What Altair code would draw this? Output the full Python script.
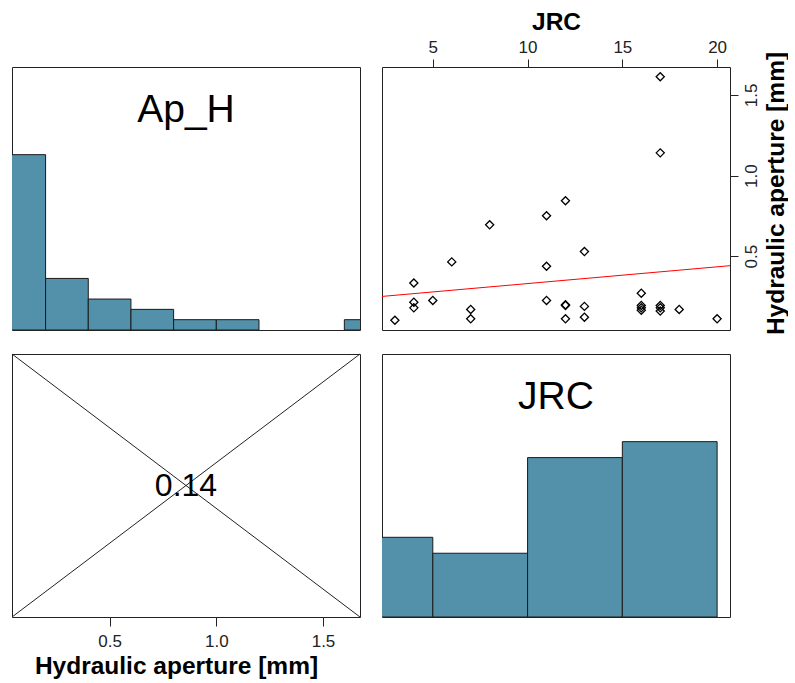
import altair as alt
import pandas as pd

# ---------------- data ----------------
jrc = [3, 4, 4, 4, 5, 6, 7, 7, 8, 11, 11, 11, 12, 12, 12, 12, 13, 13, 13,
       16, 16, 16, 16, 17, 17, 17, 17, 17, 18, 20]
ap_h = [0.103, 0.334, 0.215, 0.180, 0.226, 0.465, 0.170, 0.112, 0.695,
        0.751, 0.438, 0.226, 0.844, 0.199, 0.112, 0.195, 0.529, 0.189, 0.122,
        0.271, 0.195, 0.180, 0.165, 1.613, 1.141, 0.195, 0.180, 0.160,
        0.170, 0.112]

ap_bin_start = [0.0, 0.2, 0.4, 0.6, 0.8, 1.0, 1.2, 1.4, 1.6]
ap_bin_end = [0.2, 0.4, 0.6, 0.8, 1.0, 1.2, 1.4, 1.6, 1.8]
ap_counts = [17, 5, 3, 2, 1, 1, 0, 0, 1]

jrc_bin_start = [0, 5, 10, 15]
jrc_bin_end = [5, 10, 15, 20]
jrc_counts = [5, 4, 10, 11]

corr_label = ["0.14"]
diag_labels = ["Ap_H", "JRC"]
jrc_ticks = [5, 10, 15, 20]
ap_ticks = [0.5, 1.0, 1.5]
ap_title = "Hydraulic aperture [mm]"
jrc_title = "JRC"

# ---------------- styling ----------------
FONT = "Liberation Sans"
HIST = "#5391AA"
INK = "#222222"
W, H = 348, 263
LABEL_FRAC = 0.835


def extended(values, frac=0.04):
    lo, hi = min(values), max(values)
    d = (hi - lo) * frac
    return [lo - d, hi + d]


jrc_dom = extended(jrc)
ap_dom = extended(ap_h)
jrc_mid = sum(jrc_dom) / 2
ap_mid = sum(ap_dom) / 2

common_axis = dict(grid=False, domain=False, ticks=True, tickColor=INK, tickWidth=1,
                   labelFont=FONT, labelFontSize=17, labelColor=INK, labelFlush=False,
                   labelOverlap=False, titleFont=FONT, titleFontSize=24.5,
                   titleFontWeight="bold", titleColor="black")

# ---------------- top-left: histogram of Ap_H ----------------
ap_hist = pd.DataFrame({"start": ap_bin_start, "end": ap_bin_end, "count": ap_counts})
ap_hist = ap_hist[ap_hist["count"] > 0]
ap_x = alt.Scale(domain=ap_dom, nice=False, zero=False)

tl_bars = alt.Chart(ap_hist).mark_rect(fill=HIST, stroke="#1a1a1a", strokeWidth=1, clip=True).encode(
    x=alt.X("start:Q", scale=ap_x, axis=None),
    x2="end:Q",
    y=alt.Y("count:Q", scale=alt.Scale(domain=[0, 1.5 * max(ap_counts)], nice=False, zero=True), axis=None),
    y2=alt.datum(0),
)
tl_text = alt.Chart(pd.DataFrame({"label": [diag_labels[0]]})).mark_text(
    font=FONT, fontSize=39, color="black", baseline="middle", align="center"
).encode(
    text="label:N",
    x=alt.datum(ap_mid),
    y=alt.datum(LABEL_FRAC * 1.5 * max(ap_counts)),
)
tl = alt.layer(tl_bars, tl_text).properties(width=W, height=H)

# ---------------- top-right: scatter ----------------
sc = pd.DataFrame({"JRC": jrc, "Ap_H": ap_h})
jrc_x = alt.Scale(domain=jrc_dom, nice=False, zero=False)
ap_y = alt.Scale(domain=ap_dom, nice=False, zero=False)

pts = alt.Chart(sc).mark_point(shape="diamond", size=66, filled=False, color="black",
                               strokeWidth=1.3, opacity=1).encode(
    x=alt.X("JRC:Q", scale=jrc_x,
            axis=alt.Axis(orient="top", values=jrc_ticks, title=jrc_title, tickSize=8,
                          labelPadding=3, titlePadding=4, **common_axis)),
    y=alt.Y("Ap_H:Q", scale=ap_y,
            axis=alt.Axis(orient="right", values=ap_ticks, format=".1f", title=ap_title,
                          tickSize=8, labelAngle=270, labelAlign="center", labelBaseline="top",
                          labelPadding=5, titleAngle=270, titleBaseline="top", titlePadding=5,
                          titleY=126, **common_axis)),
)
reg = alt.Chart(sc).transform_regression("JRC", "Ap_H", extent=jrc_dom).mark_line(
    color="#FF0000", strokeWidth=1, clip=True
).encode(x="JRC:Q", y="Ap_H:Q")
tr = alt.layer(pts, reg).properties(width=W, height=H)

# ---------------- bottom-left: correlation ----------------
cross = pd.DataFrame({"x": [ap_dom[0], ap_dom[0]], "y": [0.0, 1.0],
                      "x2": [ap_dom[1], ap_dom[1]], "y2": [1.0, 0.0]})
rules = alt.Chart(cross).mark_rule(color=INK, strokeWidth=1).encode(
    x=alt.X("x:Q", scale=ap_x,
            axis=alt.Axis(orient="bottom", values=ap_ticks, format=".1f", title=ap_title,
                          tickSize=9, labelPadding=7, titlePadding=5, titleX=164,
                          **common_axis)),
    x2="x2:Q",
    y=alt.Y("y:Q", scale=alt.Scale(domain=[0, 1], nice=False, zero=False), axis=None),
    y2="y2:Q",
)
corr_text = alt.Chart(pd.DataFrame({"label": corr_label})).mark_text(
    font=FONT, fontSize=32, color="black", baseline="middle", align="center"
).encode(text="label:N", x=alt.datum(ap_mid), y=alt.datum(0.5))
bl = alt.layer(rules, corr_text).properties(width=W, height=H)

# ---------------- bottom-right: histogram of JRC ----------------
jrc_hist = pd.DataFrame({"start": jrc_bin_start, "end": jrc_bin_end, "count": jrc_counts})
br_bars = alt.Chart(jrc_hist).mark_rect(fill=HIST, stroke="#1a1a1a", strokeWidth=1, clip=True).encode(
    x=alt.X("start:Q", scale=jrc_x, axis=None),
    x2="end:Q",
    y=alt.Y("count:Q", scale=alt.Scale(domain=[0, 1.5 * max(jrc_counts)], nice=False, zero=True), axis=None),
    y2=alt.datum(0),
)
br_text = alt.Chart(pd.DataFrame({"label": [diag_labels[1]]})).mark_text(
    font=FONT, fontSize=39, color="black", baseline="middle", align="center"
).encode(
    text="label:N",
    x=alt.datum(jrc_mid),
    y=alt.datum(LABEL_FRAC * 1.5 * max(jrc_counts)),
)
br = alt.layer(br_bars, br_text).properties(width=W, height=H)

chart = alt.concat(
    tl, tr, bl, br, columns=2, spacing={"row": 24, "column": 22}, bounds="flush"
).properties(
    padding={"left": 11, "top": 8, "right": 0, "bottom": 2},
    background="white",
).configure_view(stroke=INK, strokeWidth=1)

chart.save("out.html", embed_options={"renderer": "svg", "actions": False})
